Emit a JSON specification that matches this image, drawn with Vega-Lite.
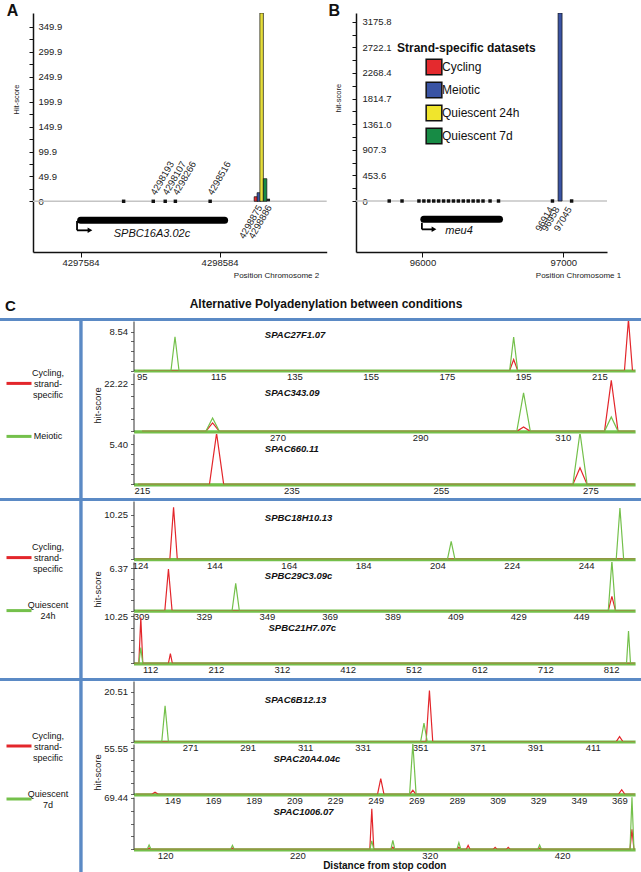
{
"$schema": "https://vega.github.io/schema/vega-lite/v6.json",
"background": "white",
"padding": {"left": 0, "top": 3, "right": 0, "bottom": 0},
"config": {"font": "Liberation Sans", "view": {"stroke": null}, "axis": {"grid": false, "labelColor": "#222", "titleColor": "#222", "labelOverlap": false, "labelSeparation": 0, "tickCount": 50}, "legend": {"padding": 0}, "title": {"color": "#111"}},
"spacing": 0,
"resolve": {"scale": {"x": "independent", "y": "independent", "color": "independent"}},
"vconcat": [
{
"spacing": 0,
"resolve": {"scale": {"x": "independent", "y": "independent", "color": "independent"}},
"hconcat": [
{"width": 6, "height": 1, "data": {"values": []}, "mark": "point"},
{
"width": 293.7, "height": 239,
"title": {"text": "A", "anchor": "start", "frame": "group", "dx": -26.3, "offset": -14.4, "baseline": "middle", "fontSize": 16, "fontWeight": "bold"},
"data": {"values": [{"gene": "SPBC16A3.02c", "start": 4297585, "end": 4298620}]},
"layer": [
{"mark": {"type": "rule", "color": "#c4c4c4", "strokeWidth": 1.5},
 "encoding": {"y": {"datum": 0, "type": "quantitative", "scale": {"domain": [-101.8, 378], "nice": false, "zero": false},
  "axis": {"values": [0,25,49.9,75,99.9,125,149.9,175,199.9,225,249.9,275,299.9,325,349.9], "tickCount": 50,
   "labelExpr": "datum.value == 0 ? '0' : (round(datum.value * 10) % 500 == 499 ? format(datum.value, '.1f') : '')",
   "labelAlign": "left", "labelPadding": -9, "tickSize": 4, "labelFontSize": 9.5, "domainColor": "#111", "domainWidth": 1.5, "tickColor": "#111",
   "title": "Hit-score", "titleFontSize": 7.5, "titleFontWeight": "normal", "titleX": -16.3, "titleY": 86, "titleAngle": 270, "titleAlign": "center", "titleBaseline": "middle", "grid": false, "labelOverlap": false}}}},
{"data": {"values": [{"site": 4297894}, {"site": 4298107}, {"site": 4298193}, {"site": 4298266}, {"site": 4298516}]},
 "mark": {"type": "square", "size": 12, "color": "#111", "opacity": 1},
 "encoding": {"x": {"field": "site", "type": "quantitative", "scale": {"domain": [4297278.4, 4299318], "nice": false, "zero": false},
  "axis": {"values": [4297584, 4298584], "tickCount": 50, "format": "d", "tickSize": 5, "labelPadding": 0, "labelFontSize": 9.5, "domainColor": "#111", "domainWidth": 1.5, "tickColor": "#111", "labelFlush": false,
   "title": "Position Chromosome 2", "titleFontSize": 8, "titleFontWeight": "normal", "titleX": 285.7, "titleY": 23, "titleAlign": "right", "titleBaseline": "middle", "grid": false}},
  "y": {"datum": 0, "type": "quantitative"}}},
{"data": {"values": [{"site": 4298107, "label": "4298193"}, {"site": 4298193, "label": "4298107"}, {"site": 4298266, "label": "4298266"}, {"site": 4298516, "label": "4298516"}]},
 "mark": {"type": "text", "angle": 300, "align": "left", "baseline": "middle", "fontSize": 9.5, "color": "#222"},
 "encoding": {"x": {"field": "site", "type": "quantitative"}, "y": {"datum": 14, "type": "quantitative"}, "text": {"field": "label"}}},
{"data": {"values": [{"site": 4298845, "score": 9.2, "dataset": "Cycling"}, {"site": 4298866, "score": 17.3, "dataset": "Meiotic"}, {"site": 4298886, "score": 378, "dataset": "Quiescent 24h"}, {"site": 4298911, "score": 45.4, "dataset": "Quiescent 7d"}]},
 "mark": {"type": "bar", "width": 3.5, "stroke": "#111", "strokeWidth": 0.7, "clip": true},
 "encoding": {"x": {"field": "site", "type": "quantitative"}, "y": {"field": "score", "type": "quantitative"},
  "color": {"field": "dataset", "type": "nominal", "scale": {"domain": ["Cycling", "Meiotic", "Quiescent 24h", "Quiescent 7d"], "range": ["#e42a2e", "#3a54a4", "#e6de3a", "#178b45"]}, "legend": null}}},
{"data": {"values": [{"site": 4298934, "score": 5.2}]},
 "mark": {"type": "bar", "width": 3.5, "color": "#222"},
 "encoding": {"x": {"field": "site", "type": "quantitative"}, "y": {"field": "score", "type": "quantitative"}}},
{"data": {"values": [{"site": 4298875, "label": "4298875"}]},
 "mark": {"type": "text", "angle": 300, "align": "right", "baseline": "middle", "fontSize": 9.5, "color": "#222"},
 "encoding": {"x": {"field": "site", "type": "quantitative"}, "y": {"datum": -9.4, "type": "quantitative"}, "text": {"field": "label"}}},
{"data": {"values": [{"site": 4298886, "label": "4298886"}]},
 "mark": {"type": "text", "angle": 300, "align": "right", "baseline": "middle", "fontSize": 9.5, "color": "#222", "dx": 4, "dy": 6.9},
 "encoding": {"x": {"field": "site", "type": "quantitative"}, "y": {"datum": -9.4, "type": "quantitative"}, "text": {"field": "label"}}},
{"mark": {"type": "rule", "strokeWidth": 7, "strokeCap": "round", "color": "#000"},
 "encoding": {"x": {"field": "start", "type": "quantitative"}, "x2": {"field": "end"}, "y": {"datum": -38.1, "type": "quantitative"}}},
{"mark": {"type": "text", "fontSize": 11, "fontStyle": "italic", "color": "#111"},
 "encoding": {"x": {"datum": 4298098, "type": "quantitative"}, "y": {"datum": -66.4, "type": "quantitative"}, "text": {"field": "gene"}}},
{"mark": {"type": "rule", "strokeWidth": 1.8, "color": "#000"},
 "encoding": {"x": {"datum": 4297559, "type": "quantitative"}, "y": {"datum": -39.6, "type": "quantitative"}, "y2": {"datum": -58.3}}},
{"mark": {"type": "rule", "strokeWidth": 1.8, "color": "#000"},
 "encoding": {"x": {"datum": 4297559, "type": "quantitative"}, "x2": {"datum": 4297645}, "y": {"datum": -58.3, "type": "quantitative"}}},
{"mark": {"type": "point", "shape": "triangle-right", "size": 30, "filled": true, "color": "#000", "opacity": 1},
 "encoding": {"x": {"datum": 4297652, "type": "quantitative"}, "y": {"datum": -58.3, "type": "quantitative"}}}
]
},
{
"width": 251, "height": 239,
"title": {"text": "B", "anchor": "start", "frame": "group", "dx": -27.5, "offset": -14.4, "baseline": "middle", "fontSize": 16, "fontWeight": "bold"},
"data": {"values": [{"gene": "meu4", "start": 96010, "end": 96547}]},
"layer": [
{"mark": {"type": "rule", "color": "#c4c4c4", "strokeWidth": 1.5},
 "encoding": {"y": {"datum": 0, "type": "quantitative", "scale": {"domain": [-903.3, 3330], "nice": false, "zero": false},
  "axis": {"values": [0,226.8,453.6,680.4,907.3,1134.1,1361,1587.8,1814.7,2041.5,2268.4,2495.2,2722.1,2948.9,3175.8], "tickCount": 50,
   "labelExpr": "datum.value == 0 ? '0' : ((datum.value == 453.6 || datum.value == 907.3 || datum.value == 1361 || datum.value == 1814.7 || datum.value == 2268.4 || datum.value == 2722.1 || datum.value == 3175.8) ? format(datum.value, '.1f') : '')",
   "labelAlign": "left", "labelPadding": -10, "tickSize": 4, "labelFontSize": 9.5, "domainColor": "#111", "domainWidth": 1.5, "tickColor": "#111",
   "title": "hit-score", "titleFontSize": 7.5, "titleFontWeight": "normal", "titleX": -17.3, "titleY": 84.7, "titleAngle": 270, "titleAlign": "center", "titleBaseline": "middle", "grid": false, "labelOverlap": false}}}},
{"data": {"values": [{"site": 95764}, {"site": 95855}, {"site": 95975}, {"site": 96010}, {"site": 96045}, {"site": 96080}, {"site": 96115}, {"site": 96150}, {"site": 96185}, {"site": 96220}, {"site": 96255}, {"site": 96290}, {"site": 96325}, {"site": 96360}, {"site": 96395}, {"site": 96430}, {"site": 96480}, {"site": 96540}, {"site": 96923}, {"site": 97059}]},
 "mark": {"type": "square", "size": 12, "color": "#111", "opacity": 1},
 "encoding": {"x": {"field": "site", "type": "quantitative", "scale": {"domain": [95563.7, 97274.7], "nice": false, "zero": false},
  "axis": {"values": [96000, 97000], "tickCount": 50, "format": "d", "tickSize": 5, "labelPadding": 0, "labelFontSize": 9.5, "domainColor": "#111", "domainWidth": 1.5, "tickColor": "#111", "labelFlush": false,
   "title": "Position Chromosome 1", "titleFontSize": 8, "titleFontWeight": "normal", "titleX": 264.7, "titleY": 23, "titleAlign": "right", "titleBaseline": "middle", "grid": false}},
  "y": {"datum": 0, "type": "quantitative"}}},
{"data": {"values": [{"site": 96977, "score": 3330, "dataset": "Meiotic"}]},
 "mark": {"type": "bar", "width": 4, "stroke": "#111", "strokeWidth": 0.7, "clip": true},
 "encoding": {"x": {"field": "site", "type": "quantitative"}, "y": {"field": "score", "type": "quantitative"},
  "color": {"field": "dataset", "type": "nominal", "scale": {"domain": ["Cycling", "Meiotic", "Quiescent 24h", "Quiescent 7d"], "range": ["#e42a2e", "#3a54a4", "#f0e52c", "#178b45"]},
   "legend": {"orient": "none", "legendX": 41, "legendY": 30, "title": "Strand-specific datasets", "titleFontSize": 12, "titleFontWeight": "bold", "titleColor": "#111", "titlePadding": 3,
    "symbolType": "square", "symbolSize": 246, "symbolStrokeColor": "#111", "symbolStrokeWidth": 1.5, "symbolOpacity": 1, "symbolOffset": 28, "labelOffset": -1, "labelFontSize": 12, "labelColor": "#111", "rowPadding": 1, "padding": 0}}}},
{"data": {"values": [{"site": 96914, "label": "96914"}, {"site": 96958, "label": "96958"}, {"site": 97045, "label": "97045"}]},
 "mark": {"type": "text", "angle": 300, "align": "right", "baseline": "middle", "fontSize": 9.5, "color": "#222"},
 "encoding": {"x": {"field": "site", "type": "quantitative"}, "y": {"datum": -119, "type": "quantitative"}, "text": {"field": "label"}}},
{"mark": {"type": "rule", "strokeWidth": 7, "strokeCap": "round", "color": "#000"},
 "encoding": {"x": {"field": "start", "type": "quantitative"}, "x2": {"field": "end"}, "y": {"datum": -324, "type": "quantitative"}}},
{"mark": {"type": "text", "fontSize": 11, "fontStyle": "italic", "color": "#111"},
 "encoding": {"x": {"datum": 96260, "type": "quantitative"}, "y": {"datum": -531, "type": "quantitative"}, "text": {"field": "gene"}}},
{"mark": {"type": "rule", "strokeWidth": 1.8, "color": "#000"},
 "encoding": {"x": {"datum": 95996, "type": "quantitative"}, "y": {"datum": -385, "type": "quantitative"}, "y2": {"datum": -502}}},
{"mark": {"type": "rule", "strokeWidth": 1.8, "color": "#000"},
 "encoding": {"x": {"datum": 95996, "type": "quantitative"}, "x2": {"datum": 96075}, "y": {"datum": -502, "type": "quantitative"}}},
{"mark": {"type": "point", "shape": "triangle-right", "size": 30, "filled": true, "color": "#000", "opacity": 1},
 "encoding": {"x": {"datum": 96082, "type": "quantitative"}, "y": {"datum": -502, "type": "quantitative"}}}
]
}
]
},
{
"width": 641, "height": 38.5,
"title": {"text": "C", "anchor": "start", "frame": "group", "dx": 5, "offset": -42, "baseline": "middle", "fontSize": 15, "fontWeight": "bold"},
"data": {"values": [{"t": "Alternative Polyadenylation between conditions"}]},
"mark": {"type": "text", "fontSize": 12, "fontWeight": "bold", "dx": 5.5, "dy": 5.75, "color": "#111"},
"encoding": {"text": {"field": "t", "type": "nominal"}}
},
{"width": 641, "height": 3, "view": {"fill": "#5b8ac5", "stroke": null}, "data": {"values": []}, "mark": "point"},
{
"spacing": 9.25,
"resolve": {"scale": {"x": "independent", "y": "independent", "color": "independent"}},
"hconcat": [
{"width": 69.05, "height": 177, "data": {"values": [{"s": "Cycling, strand-specific"}, {"s": "Meiotic"}]},
 "mark": {"type": "line", "strokeWidth": 3},
 "encoding": {"color": {"field": "s", "type": "nominal", "scale": {"domain": ["Cycling, strand-specific", "Meiotic"], "range": ["#e3262b", "#74c04b"]},
  "legend": {"orient": "none", "legendX": 5, "legendY": 48.4, "title": null, "symbolType": "stroke", "symbolSize": 625, "symbolStrokeWidth": 3, "labelFontSize": 9, "labelAlign": "center", "labelOffset": 15, "labelColor": "#111", "rowPadding": 22, "padding": 0, "labelLimit": 0,
   "labelExpr": "datum.label == 'Cycling, strand-specific' ? ['Cycling,', 'strand-', 'specific'] : datum.label == 'Quiescent 24h' ? ['Quiescent', '24h'] : datum.label == 'Quiescent 7d' ? ['Quiescent', '7d'] : datum.label",
   "encode": {"labels": {"update": {"dy": {"signal": "datum.label == 'Cycling, strand-specific' ? -10.5 : (datum.label == 'Meiotic' ? 0 : -5.5)"}}}}}}}},
{"width": 3.4, "height": 177, "view": {"fill": "#5b8ac5", "stroke": null}, "data": {"values": []}, "mark": "point"},
{
"spacing": 2, "bounds": "flush",
"resolve": {"scale": {"x": "independent", "y": "independent"}},
"vconcat": [
{"width": 501.6, "height": 49.5,
 "title": {"text": "SPAC27F1.07", "anchor": "start", "frame": "group", "dx": 131.3, "offset": -23.5, "baseline": "middle", "fontSize": 9.5, "fontWeight": "bold", "fontStyle": "italic"},
 "data": {"values": [{"x":94,"y":0,"s":"c"},{"x":191.45,"y":0,"s":"c"},{"x":192.5,"y":2.4,"s":"c"},{"x":193.55,"y":0,"s":"c"},{"x":221.55,"y":0,"s":"c"},{"x":222.6,"y":11.2,"s":"c"},{"x":223.65,"y":0,"s":"c"},{"x":224.3,"y":0,"s":"c"},
  {"x":94,"y":0,"s":"q"},{"x":102.65,"y":0,"s":"q"},{"x":103.7,"y":7.4,"s":"q"},{"x":104.75,"y":0,"s":"q"},{"x":191.45,"y":0,"s":"q"},{"x":192.5,"y":7.3,"s":"q"},{"x":193.55,"y":0,"s":"q"},{"x":224.3,"y":0,"s":"q"}]},
 "encoding": {
  "x": {"field": "x", "type": "quantitative", "scale": {"domain": [92.82, 224.34], "nice": false, "zero": false},
   "axis": {"values": [95,115,135,155,175,195,215], "tickCount": 50, "domainColor": "#74c04b", "domainWidth": 3.2, "ticks": false, "tickSize": 0, "labelPadding": 1, "labelFontSize": 9.5, "labelFlush": false, "labelOverlap": false, "title": null}},
  "y": {"field": "y", "type": "quantitative", "scale": {"domain": [0, 10.84], "nice": false, "zero": false},
   "axis": {"values": [0, 2.135, 4.27, 6.405, 8.54], "tickCount": 50, "labelExpr": "datum.value == 8.54 ? '8.54' : ''", "domainColor": "#333", "domainWidth": 1, "tickSize": 3, "tickColor": "#666", "labelPadding": 3, "labelFontSize": 9.5, "labelOverlap": false, "title": null}}},
 "layer": [
  {"transform": [{"filter": "datum.s == 'c'"}], "mark": {"type": "line", "color": "#e3262b", "strokeWidth": 1.2, "clip": true}},
  {"transform": [{"filter": "datum.s == 'q'"}], "mark": {"type": "line", "color": "#74c04b", "strokeWidth": 1.2, "clip": true}}
 ]},
{"width": 501.6, "height": 58.3,
 "title": {"text": "SPAC343.09", "anchor": "start", "frame": "group", "dx": 131.3, "offset": -29, "baseline": "middle", "fontSize": 9.5, "fontWeight": "bold", "fontStyle": "italic"},
 "data": {"values": [{"x":251,"y":0,"s":"c"},{"x":259.95,"y":0,"s":"c"},{"x":260.9,"y":3.9,"s":"c"},{"x":261.85,"y":0,"s":"c"},{"x":303.55,"y":0,"s":"c"},{"x":304.5,"y":2.0,"s":"c"},{"x":305.45,"y":0,"s":"c"},{"x":315.85,"y":0,"s":"c"},{"x":316.8,"y":23.8,"s":"c"},{"x":317.75,"y":0,"s":"c"},{"x":320.1,"y":0,"s":"c"},
  {"x":251,"y":0,"s":"q"},{"x":259.95,"y":0,"s":"q"},{"x":260.9,"y":6.2,"s":"q"},{"x":261.85,"y":0,"s":"q"},{"x":303.55,"y":0,"s":"q"},{"x":304.5,"y":17.9,"s":"q"},{"x":305.45,"y":0,"s":"q"},{"x":315.85,"y":0,"s":"q"},{"x":316.8,"y":6.7,"s":"q"},{"x":317.75,"y":0,"s":"q"},{"x":320.1,"y":0,"s":"q"}]},
 "encoding": {
  "x": {"field": "x", "type": "quantitative", "scale": {"domain": [249.81, 320.14], "nice": false, "zero": false},
   "axis": {"values": [270,290,310], "tickCount": 50, "domainColor": "#74c04b", "domainWidth": 3.2, "ticks": false, "tickSize": 0, "labelPadding": 1, "labelFontSize": 9.5, "labelFlush": false, "labelOverlap": false, "title": null}},
  "y": {"field": "y", "type": "quantitative", "scale": {"domain": [0, 27.22], "nice": false, "zero": false},
   "axis": {"values": [0, 5.555, 11.11, 16.665, 22.22], "tickCount": 50, "labelExpr": "datum.value == 22.22 ? '22.22' : ''", "domainColor": "#333", "domainWidth": 1, "tickSize": 3, "tickColor": "#666", "labelPadding": 3, "labelFontSize": 9.5, "labelOverlap": false,
    "title": "hit-score", "titleFontSize": 9.5, "titleFontWeight": "normal", "titleX": -36, "titleY": 32, "titleAngle": 270, "titleAlign": "center", "titleBaseline": "middle"}}},
 "layer": [
  {"transform": [{"filter": "datum.s == 'c'"}], "mark": {"type": "line", "color": "#e3262b", "strokeWidth": 1.2, "clip": true}},
  {"transform": [{"filter": "datum.s == 'q'"}], "mark": {"type": "line", "color": "#74c04b", "strokeWidth": 1.2, "clip": true}}
 ]},
{"width": 501.6, "height": 50.4,
 "title": {"text": "SPAC660.11", "anchor": "start", "frame": "group", "dx": 131.3, "offset": -24.4, "baseline": "middle", "fontSize": 9.5, "fontWeight": "bold", "fontStyle": "italic"},
 "data": {"values": [{"x":214.5,"y":0,"s":"c"},{"x":224.05,"y":0,"s":"c"},{"x":225,"y":6.9,"s":"c"},{"x":225.95,"y":0,"s":"c"},{"x":272.65,"y":0,"s":"c"},{"x":273.6,"y":2.25,"s":"c"},{"x":274.55,"y":0,"s":"c"},{"x":280.9,"y":0,"s":"c"},
  {"x":214.5,"y":0,"s":"q"},{"x":272.65,"y":0,"s":"q"},{"x":273.6,"y":7.0,"s":"q"},{"x":274.55,"y":0,"s":"q"},{"x":280.9,"y":0,"s":"q"}]},
 "encoding": {
  "x": {"field": "x", "type": "quantitative", "scale": {"domain": [213.89, 280.97], "nice": false, "zero": false},
   "axis": {"values": [215,235,255,275], "tickCount": 50, "domainColor": "#74c04b", "domainWidth": 3.2, "ticks": false, "tickSize": 0, "labelPadding": 1, "labelFontSize": 9.5, "labelFlush": false, "labelOverlap": false, "title": null}},
  "y": {"field": "y", "type": "quantitative", "scale": {"domain": [0, 6.8], "nice": false, "zero": false},
   "axis": {"values": [0, 1.35, 2.7, 4.05, 5.4], "tickCount": 50, "labelExpr": "datum.value == 5.4 ? '5.40' : ''", "domainColor": "#333", "domainWidth": 1, "tickSize": 3, "tickColor": "#666", "labelPadding": 3, "labelFontSize": 9.5, "labelOverlap": false, "title": null}}},
 "layer": [
  {"transform": [{"filter": "datum.s == 'c'"}], "mark": {"type": "line", "color": "#e3262b", "strokeWidth": 1.2, "clip": true}},
  {"transform": [{"filter": "datum.s == 'q'"}], "mark": {"type": "line", "color": "#74c04b", "strokeWidth": 1.2, "clip": true}}
 ]}
]
}
]
},
{"width": 641, "height": 3, "view": {"fill": "#5b8ac5", "stroke": null}, "data": {"values": []}, "mark": "point"},
{
"spacing": 9.25,
"resolve": {"scale": {"x": "independent", "y": "independent", "color": "independent"}},
"hconcat": [
{"width": 69.05, "height": 177, "data": {"values": [{"s": "Cycling, strand-specific"}, {"s": "Quiescent 24h"}]},
 "mark": {"type": "line", "strokeWidth": 3},
 "encoding": {"color": {"field": "s", "type": "nominal", "scale": {"domain": ["Cycling, strand-specific", "Quiescent 24h"], "range": ["#e3262b", "#74c04b"]},
  "legend": {"orient": "none", "legendX": 5, "legendY": 42.6, "title": null, "symbolType": "stroke", "symbolSize": 625, "symbolStrokeWidth": 3, "labelFontSize": 9, "labelAlign": "center", "labelOffset": 15, "labelColor": "#111", "rowPadding": 22, "padding": 0, "labelLimit": 0,
   "labelExpr": "datum.label == 'Cycling, strand-specific' ? ['Cycling,', 'strand-', 'specific'] : datum.label == 'Quiescent 24h' ? ['Quiescent', '24h'] : datum.label == 'Quiescent 7d' ? ['Quiescent', '7d'] : datum.label",
   "encode": {"labels": {"update": {"dy": {"signal": "datum.label == 'Cycling, strand-specific' ? -10.5 : (datum.label == 'Meiotic' ? 0 : -5.5)"}}}}}}}},
{"width": 3.4, "height": 177, "view": {"fill": "#5b8ac5", "stroke": null}, "data": {"values": []}, "mark": "point"},
{
"spacing": 2, "bounds": "flush",
"resolve": {"scale": {"x": "independent", "y": "independent"}},
"vconcat": [
{"width": 501.6, "height": 58.2,
 "title": {"text": "SPBC18H10.13", "anchor": "start", "frame": "group", "dx": 131.3, "offset": -26.2, "baseline": "middle", "fontSize": 9.5, "fontWeight": "bold", "fontStyle": "italic"},
 "data": {"values": [{"x":123,"y":0,"s":"c"},{"x":132,"y":0,"s":"c"},{"x":133,"y":12.0,"s":"c"},{"x":134,"y":0,"s":"c"},{"x":257.1,"y":0,"s":"c"},
  {"x":123,"y":0,"s":"q"},{"x":206.7,"y":0,"s":"q"},{"x":207.7,"y":4.1,"s":"q"},{"x":208.7,"y":0,"s":"q"},{"x":252.1,"y":0,"s":"q"},{"x":253.1,"y":11.8,"s":"q"},{"x":254.1,"y":0,"s":"q"},{"x":257.1,"y":0,"s":"q"}]},
 "encoding": {
  "x": {"field": "x", "type": "quantitative", "scale": {"domain": [122.22, 257.18], "nice": false, "zero": false},
   "axis": {"values": [124,144,164,184,204,224,244], "tickCount": 50, "domainColor": "#74c04b", "domainWidth": 3.2, "ticks": false, "tickSize": 0, "labelPadding": 1, "labelFontSize": 9.5, "labelFlush": false, "labelOverlap": false, "title": null}},
  "y": {"field": "y", "type": "quantitative", "scale": {"domain": [0, 13.43], "nice": false, "zero": false},
   "axis": {"values": [0, 2.5625, 5.125, 7.6875, 10.25], "tickCount": 50, "labelExpr": "datum.value == 10.25 ? '10.25' : ''", "domainColor": "#333", "domainWidth": 1, "tickSize": 3, "tickColor": "#666", "labelPadding": 3, "labelFontSize": 9.5, "labelOverlap": false, "title": null}}},
 "layer": [
  {"transform": [{"filter": "datum.s == 'c'"}], "mark": {"type": "line", "color": "#e3262b", "strokeWidth": 1.2, "clip": true}},
  {"transform": [{"filter": "datum.s == 'q'"}], "mark": {"type": "line", "color": "#74c04b", "strokeWidth": 1.2, "clip": true}}
 ]},
{"width": 501.6, "height": 48.6,
 "title": {"text": "SPBC29C3.09c", "anchor": "start", "frame": "group", "dx": 131.3, "offset": -23, "baseline": "middle", "fontSize": 9.5, "fontWeight": "bold", "fontStyle": "italic"},
 "data": {"values": [{"x":308,"y":0,"s":"c"},{"x":316.55,"y":0,"s":"c"},{"x":317.7,"y":6.27,"s":"c"},{"x":318.85,"y":0,"s":"c"},{"x":457.65,"y":0,"s":"c"},{"x":458.8,"y":2.15,"s":"c"},{"x":459.95,"y":0,"s":"c"},{"x":466,"y":0,"s":"c"},
  {"x":308,"y":0,"s":"q"},{"x":337.95,"y":0,"s":"q"},{"x":339.1,"y":4.1,"s":"q"},{"x":340.25,"y":0,"s":"q"},{"x":457.65,"y":0,"s":"q"},{"x":458.8,"y":7.5,"s":"q"},{"x":459.95,"y":0,"s":"q"},{"x":466,"y":0,"s":"q"}]},
 "encoding": {
  "x": {"field": "x", "type": "quantitative", "scale": {"domain": [306.58, 466.18], "nice": false, "zero": false},
   "axis": {"values": [309,329,349,369,389,409,429,449], "tickCount": 50, "domainColor": "#74c04b", "domainWidth": 3.2, "ticks": false, "tickSize": 0, "labelPadding": 1, "labelFontSize": 9.5, "labelFlush": false, "labelOverlap": false, "title": null}},
  "y": {"field": "y", "type": "quantitative", "scale": {"domain": [0, 7.32], "nice": false, "zero": false},
   "axis": {"values": [0, 1.5925, 3.185, 4.7775, 6.37], "tickCount": 50, "labelExpr": "datum.value == 6.37 ? '6.37' : ''", "domainColor": "#333", "domainWidth": 1, "tickSize": 3, "tickColor": "#666", "labelPadding": 3, "labelFontSize": 9.5, "labelOverlap": false,
    "title": "hit-score", "titleFontSize": 9.5, "titleFontWeight": "normal", "titleX": -36, "titleY": 27, "titleAngle": 270, "titleAlign": "center", "titleBaseline": "middle"}}},
 "layer": [
  {"transform": [{"filter": "datum.s == 'c'"}], "mark": {"type": "line", "color": "#e3262b", "strokeWidth": 1.2, "clip": true}},
  {"transform": [{"filter": "datum.s == 'q'"}], "mark": {"type": "line", "color": "#74c04b", "strokeWidth": 1.2, "clip": true}}
 ]},
{"width": 501.6, "height": 50.4,
 "title": {"text": "SPBC21H7.07c", "anchor": "start", "frame": "group", "dx": 135, "offset": -26.4, "baseline": "middle", "fontSize": 9.5, "fontWeight": "bold", "fontStyle": "italic"},
 "data": {"values": [{"x":88,"y":0,"s":"c"},{"x":94.9,"y":0,"s":"c"},{"x":97.9,"y":9.9,"s":"c"},{"x":100.9,"y":0,"s":"c"},{"x":139.8,"y":0,"s":"c"},{"x":142.8,"y":2.1,"s":"c"},{"x":145.8,"y":0,"s":"c"},{"x":848,"y":0,"s":"c"},
  {"x":88,"y":0,"s":"q"},{"x":94.9,"y":0,"s":"q"},{"x":97.9,"y":3.4,"s":"q"},{"x":100.9,"y":0,"s":"q"},{"x":835.4,"y":0,"s":"q"},{"x":838.4,"y":7.0,"s":"q"},{"x":841.4,"y":0,"s":"q"},{"x":848,"y":0,"s":"q"}]},
 "encoding": {
  "x": {"field": "x", "type": "quantitative", "scale": {"domain": [86.8, 848.4], "nice": false, "zero": false},
   "axis": {"values": [112,212,312,412,512,612,712,812], "tickCount": 50, "domainColor": "#74c04b", "domainWidth": 3.2, "ticks": false, "tickSize": 0, "labelPadding": 1, "labelFontSize": 9.5, "labelFlush": false, "labelOverlap": false, "title": null}},
  "y": {"field": "y", "type": "quantitative", "scale": {"domain": [0, 10.9], "nice": false, "zero": false},
   "axis": {"values": [0, 2.5625, 5.125, 7.6875, 10.25], "tickCount": 50, "labelExpr": "datum.value == 10.25 ? '10.25' : ''", "domainColor": "#333", "domainWidth": 1, "tickSize": 3, "tickColor": "#666", "labelPadding": 3, "labelFontSize": 9.5, "labelOverlap": false, "title": null}}},
 "layer": [
  {"transform": [{"filter": "datum.s == 'c'"}], "mark": {"type": "line", "color": "#e3262b", "strokeWidth": 1.2, "clip": true}},
  {"transform": [{"filter": "datum.s == 'q'"}], "mark": {"type": "line", "color": "#74c04b", "strokeWidth": 1.2, "clip": true}}
 ]}
]
}
]
},
{"width": 641, "height": 3, "view": {"fill": "#5b8ac5", "stroke": null}, "data": {"values": []}, "mark": "point"},
{
"spacing": 9.25,
"resolve": {"scale": {"x": "independent", "y": "independent", "color": "independent"}},
"hconcat": [
{"width": 69.05, "height": 192.5, "data": {"values": [{"s": "Cycling, strand-specific"}, {"s": "Quiescent 7d"}]},
 "mark": {"type": "line", "strokeWidth": 3},
 "encoding": {"color": {"field": "s", "type": "nominal", "scale": {"domain": ["Cycling, strand-specific", "Quiescent 7d"], "range": ["#e3262b", "#74c04b"]},
  "legend": {"orient": "none", "legendX": 5, "legendY": 51, "title": null, "symbolType": "stroke", "symbolSize": 625, "symbolStrokeWidth": 3, "labelFontSize": 9, "labelAlign": "center", "labelOffset": 15, "labelColor": "#111", "rowPadding": 22, "padding": 0, "labelLimit": 0,
   "labelExpr": "datum.label == 'Cycling, strand-specific' ? ['Cycling,', 'strand-', 'specific'] : datum.label == 'Quiescent 24h' ? ['Quiescent', '24h'] : datum.label == 'Quiescent 7d' ? ['Quiescent', '7d'] : datum.label",
   "encode": {"labels": {"update": {"dy": {"signal": "datum.label == 'Cycling, strand-specific' ? -10.5 : (datum.label == 'Meiotic' ? 0 : -5.5)"}}}}}}}},
{"width": 3.4, "height": 192.5, "view": {"fill": "#5b8ac5", "stroke": null}, "data": {"values": []}, "mark": "point"},
{
"spacing": 2, "bounds": "flush",
"resolve": {"scale": {"x": "independent", "y": "independent"}},
"vconcat": [
{"width": 501.6, "height": 60.5,
 "title": {"text": "SPAC6B12.13", "anchor": "start", "frame": "group", "dx": 131.3, "offset": -28.5, "baseline": "middle", "fontSize": 9.5, "fontWeight": "bold", "fontStyle": "italic"},
 "data": {"values": [{"x":252,"y":0,"s":"c"},{"x":353.05,"y":0,"s":"c"},{"x":354.2,"y":20.9,"s":"c"},{"x":355.35,"y":0,"s":"c"},{"x":419.15,"y":0,"s":"c"},{"x":420.3,"y":2.0,"s":"c"},{"x":421.45,"y":0,"s":"c"},{"x":425.6,"y":0,"s":"c"},
  {"x":252,"y":0,"s":"q"},{"x":261.15,"y":0,"s":"q"},{"x":262.3,"y":14.6,"s":"q"},{"x":263.45,"y":0,"s":"q"},{"x":351.15,"y":0,"s":"q"},{"x":352.3,"y":7.5,"s":"q"},{"x":353.45,"y":0,"s":"q"},{"x":425.6,"y":0,"s":"q"}]},
 "encoding": {
  "x": {"field": "x", "type": "quantitative", "scale": {"domain": [251.32, 425.7], "nice": false, "zero": false},
   "axis": {"values": [271,291,311,331,351,371,391,411], "tickCount": 50, "domainColor": "#74c04b", "domainWidth": 3.2, "ticks": false, "tickSize": 0, "labelPadding": 1, "labelFontSize": 9.5, "labelFlush": false, "labelOverlap": false, "title": null}},
  "y": {"field": "y", "type": "quantitative", "scale": {"domain": [0, 24.82], "nice": false, "zero": false},
   "axis": {"values": [0, 5.1275, 10.255, 15.3825, 20.51], "tickCount": 50, "labelExpr": "datum.value == 20.51 ? '20.51' : ''", "domainColor": "#333", "domainWidth": 1, "tickSize": 3, "tickColor": "#666", "labelPadding": 3, "labelFontSize": 9.5, "labelOverlap": false, "title": null}}},
 "layer": [
  {"transform": [{"filter": "datum.s == 'c'"}], "mark": {"type": "line", "color": "#e3262b", "strokeWidth": 1.2, "clip": true}},
  {"transform": [{"filter": "datum.s == 'q'"}], "mark": {"type": "line", "color": "#74c04b", "strokeWidth": 1.2, "clip": true}}
 ]},
{"width": 501.6, "height": 50.3,
 "title": {"text": "SPAC20A4.04c", "anchor": "start", "frame": "group", "dx": 140, "offset": -25.7, "baseline": "middle", "fontSize": 9.5, "fontWeight": "bold", "fontStyle": "italic"},
 "data": {"values": [{"x":131,"y":0,"s":"c"},{"x":138.8,"y":0,"s":"c"},{"x":140.4,"y":2.4,"s":"c"},{"x":142,"y":0,"s":"c"},{"x":249.9,"y":0,"s":"c"},{"x":251.5,"y":18.7,"s":"c"},{"x":253.1,"y":0,"s":"c"},{"x":265.7,"y":0,"s":"c"},{"x":267.3,"y":4.8,"s":"c"},{"x":268.9,"y":0,"s":"c"},{"x":368.5,"y":0,"s":"c"},{"x":370.1,"y":5.5,"s":"c"},{"x":371.7,"y":0,"s":"c"},{"x":376.6,"y":0,"s":"c"},
  {"x":131,"y":0,"s":"q"},{"x":265.7,"y":0,"s":"q"},{"x":267.3,"y":61,"s":"q"},{"x":268.9,"y":0,"s":"q"},{"x":376.6,"y":0,"s":"q"}]},
 "encoding": {
  "x": {"field": "x", "type": "quantitative", "scale": {"domain": [129.8, 376.7], "nice": false, "zero": false},
   "axis": {"values": [149,169,189,209,229,249,269,289,309,329,349,369], "tickCount": 50, "domainColor": "#74c04b", "domainWidth": 3.2, "ticks": false, "tickSize": 0, "labelPadding": 1, "labelFontSize": 9.5, "labelFlush": false, "labelOverlap": false, "title": null}},
  "y": {"field": "y", "type": "quantitative", "scale": {"domain": [0, 60.35], "nice": false, "zero": false},
   "axis": {"values": [0, 13.8875, 27.775, 41.6625, 55.55], "tickCount": 50, "labelExpr": "datum.value == 55.55 ? '55.55' : ''", "domainColor": "#333", "domainWidth": 1, "tickSize": 3, "tickColor": "#666", "labelPadding": 3, "labelFontSize": 9.5, "labelOverlap": false,
    "title": "hit-score", "titleFontSize": 9.5, "titleFontWeight": "normal", "titleX": -36, "titleY": 28, "titleAngle": 270, "titleAlign": "center", "titleBaseline": "middle"}}},
 "layer": [
  {"transform": [{"filter": "datum.s == 'c'"}], "mark": {"type": "line", "color": "#e3262b", "strokeWidth": 1.2, "clip": true}},
  {"transform": [{"filter": "datum.s == 'q'"}], "mark": {"type": "line", "color": "#74c04b", "strokeWidth": 1.2, "clip": true}}
 ]},
{"width": 501.6, "height": 52.4,
 "title": {"text": "SPAC1006.07", "anchor": "start", "frame": "group", "dx": 140, "offset": -28.7, "baseline": "middle", "fontSize": 9.5, "fontWeight": "bold", "fontStyle": "italic"},
 "data": {"values": [{"x":97,"y":0,"s":"c"},{"x":106.4,"y":0,"s":"c"},{"x":107.9,"y":2,"s":"c"},{"x":109.4,"y":0,"s":"c"},{"x":169.4,"y":0,"s":"c"},{"x":170.9,"y":2,"s":"c"},{"x":172.4,"y":0,"s":"c"},{"x":274.7,"y":0,"s":"c"},{"x":276.2,"y":54.7,"s":"c"},{"x":277.7,"y":0,"s":"c"},{"x":290.6,"y":0,"s":"c"},{"x":292.1,"y":3,"s":"c"},{"x":293.6,"y":0,"s":"c"},{"x":340.5,"y":0,"s":"c"},{"x":342,"y":3,"s":"c"},{"x":343.5,"y":0,"s":"c"},{"x":347.5,"y":0,"s":"c"},{"x":349,"y":5.4,"s":"c"},{"x":350.5,"y":0,"s":"c"},{"x":367.9,"y":0,"s":"c"},{"x":369.4,"y":2.7,"s":"c"},{"x":370.9,"y":0,"s":"c"},{"x":377.8,"y":0,"s":"c"},{"x":379.3,"y":2.7,"s":"c"},{"x":380.8,"y":0,"s":"c"},{"x":401.5,"y":0,"s":"c"},{"x":403,"y":2,"s":"c"},{"x":404.5,"y":0,"s":"c"},{"x":471.3,"y":0,"s":"c"},{"x":472.8,"y":26.9,"s":"c"},{"x":474.3,"y":0,"s":"c"},{"x":475.1,"y":0,"s":"c"},
  {"x":97,"y":0,"s":"q"},{"x":106.4,"y":0,"s":"q"},{"x":107.9,"y":5.9,"s":"q"},{"x":109.4,"y":0,"s":"q"},{"x":169.4,"y":0,"s":"q"},{"x":170.9,"y":5.5,"s":"q"},{"x":172.4,"y":0,"s":"q"},{"x":274.7,"y":0,"s":"q"},{"x":276.2,"y":11.3,"s":"q"},{"x":277.7,"y":0,"s":"q"},{"x":290.6,"y":0,"s":"q"},{"x":292.1,"y":12.1,"s":"q"},{"x":293.6,"y":0,"s":"q"},{"x":340.5,"y":0,"s":"q"},{"x":342,"y":9,"s":"q"},{"x":343.5,"y":0,"s":"q"},{"x":401.5,"y":0,"s":"q"},{"x":403,"y":5.9,"s":"q"},{"x":404.5,"y":0,"s":"q"},{"x":471.3,"y":0,"s":"q"},{"x":472.8,"y":70,"s":"q"},{"x":474.3,"y":0,"s":"q"},{"x":475.1,"y":0,"s":"q"}]},
 "encoding": {
  "x": {"field": "x", "type": "quantitative", "scale": {"domain": [96.12, 475.17], "nice": false, "zero": false},
   "axis": {"values": [120,220,320,420], "tickCount": 50, "domainColor": "#74c04b", "domainWidth": 3.2, "ticks": false, "tickSize": 0, "labelPadding": 1, "labelFontSize": 9.5, "labelFlush": false, "labelOverlap": false,
    "title": "Distance from stop codon", "titleFontSize": 10, "titleFontWeight": "bold", "titleColor": "#111", "titlePadding": 1}},
  "y": {"field": "y", "type": "quantitative", "scale": {"domain": [0, 70.38], "nice": false, "zero": false},
   "axis": {"values": [0, 17.36, 34.72, 52.08, 69.44], "tickCount": 50, "labelExpr": "datum.value == 69.44 ? '69.44' : ''", "domainColor": "#333", "domainWidth": 1, "tickSize": 3, "tickColor": "#666", "labelPadding": 3, "labelFontSize": 9.5, "labelOverlap": false, "title": null}}},
 "layer": [
  {"transform": [{"filter": "datum.s == 'c'"}], "mark": {"type": "line", "color": "#e3262b", "strokeWidth": 1.2, "clip": true}},
  {"transform": [{"filter": "datum.s == 'q'"}], "mark": {"type": "line", "color": "#74c04b", "strokeWidth": 1.2, "clip": true}}
 ]}
]
}
]
}
]
}
